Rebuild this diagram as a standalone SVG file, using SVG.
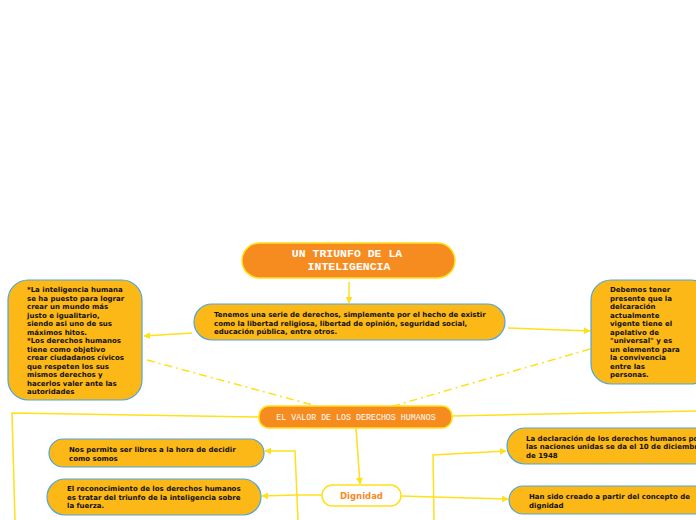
<svg xmlns="http://www.w3.org/2000/svg" width="696" height="520" viewBox="0 0 696 520">
<style>
.conn{fill:none;stroke:#FFE01A;stroke-width:1.5}
.dash{fill:none;stroke:#FFE01A;stroke-width:1.5;stroke-dasharray:8 4 2 4}
.main{fill:#F68B1F;stroke:#FFE01A;stroke-width:1.5}
.sub{fill:#FCB816;stroke:#4EA6DC;stroke-width:1.2}
.mono{font-family:"Liberation Mono","Courier New",monospace;fill:#ffffff}
.t{font-family:"DejaVu Sans",Verdana,sans-serif;font-weight:bold;font-size:7px;fill:#111111}
</style>
<defs>
<marker id="ah" viewBox="0 0 10 10" refX="9" refY="5" markerWidth="7" markerHeight="7" orient="auto" markerUnits="userSpaceOnUse">
<path d="M0,0 L10,5 L0,10 z" fill="#FFE01A"/>
</marker>
</defs>
<rect width="696" height="520" fill="#ffffff"/>
<g id="connectors">
<line class="conn" x1="349" y1="282" x2="349" y2="303" marker-end="url(#ah)"/>
<line class="conn" x1="192" y1="333" x2="144" y2="336" marker-end="url(#ah)"/>
<line class="conn" x1="508" y1="328" x2="590" y2="331" marker-end="url(#ah)"/>
<line class="dash" x1="147" y1="360" x2="320" y2="407"/>
<line class="dash" x1="590" y1="349" x2="390" y2="407"/>
<polyline class="conn" points="259,417 12,413 15,520"/>
<line class="conn" x1="452" y1="416" x2="696" y2="411"/>
<line class="conn" x1="356" y1="428" x2="360" y2="484" marker-end="url(#ah)"/>
<line class="conn" x1="322" y1="495" x2="296" y2="495"/>
<polyline class="conn" points="298,520 295,451 265,451" marker-end="url(#ah)"/>
<line class="conn" x1="296" y1="495" x2="262" y2="496" marker-end="url(#ah)"/>
<line class="conn" x1="401" y1="496" x2="434" y2="497"/>
<polyline class="conn" points="434,520 433,455 506,451" marker-end="url(#ah)"/>
<line class="conn" x1="434" y1="497" x2="508" y2="499" marker-end="url(#ah)"/>
</g>
<g id="title">
<rect class="main" x="242" y="243" width="213" height="35" rx="17.5"/>
<text class="mono" font-size="11.5" text-anchor="middle" x="347" y="257" font-weight="bold">UN TRIUNFO DE LA</text>
<text class="mono" font-size="11.5" text-anchor="middle" x="349" y="270" font-weight="bold">INTELIGENCIA</text>
</g>
<g id="derechos">
<rect class="sub" x="194" y="304" width="311" height="36" rx="18"/>
<text class="t" x="214" y="317">Tenemos una serie de derechos, simplemente por el hecho de existir</text>
<text class="t" x="214" y="325.5">como la libertad religiosa, libertad de opinión, seguridad social,</text>
<text class="t" x="214" y="334">educación pública, entre otros.</text>
</g>
<g id="inteligencia">
<rect class="sub" x="8" y="280" width="134" height="120" rx="20"/>
<text class="t" x="27" y="292">*La inteligencia humana</text>
<text class="t" x="27" y="300.5">se ha puesto para lograr</text>
<text class="t" x="27" y="309">crear un mundo más</text>
<text class="t" x="27" y="317.5">justo e igualitario,</text>
<text class="t" x="27" y="326">siendo asi uno de sus</text>
<text class="t" x="27" y="334.5">máximos hitos.</text>
<text class="t" x="27" y="343">*Los derechos humanos</text>
<text class="t" x="27" y="351.5">tiene como objetivo</text>
<text class="t" x="27" y="360">crear ciudadanos cívicos</text>
<text class="t" x="27" y="368.5">que respeten los sus</text>
<text class="t" x="27" y="377">mismos derechos y</text>
<text class="t" x="27" y="385.5">hacerlos valer ante las</text>
<text class="t" x="27" y="394">autoridades</text>
</g>
<g id="declaracion-universal">
<rect class="sub" x="591" y="280" width="120" height="104" rx="20"/>
<text class="t" x="610" y="292">Debemos tener</text>
<text class="t" x="610" y="300.5">presente que la</text>
<text class="t" x="610" y="309">delcaración</text>
<text class="t" x="610" y="317.5">actualmente</text>
<text class="t" x="610" y="326">vigente tiene el</text>
<text class="t" x="610" y="334.5">apelativo de</text>
<text class="t" x="610" y="343">"universal" y es</text>
<text class="t" x="610" y="351.5">un elemento para</text>
<text class="t" x="610" y="360">la convivencia</text>
<text class="t" x="610" y="368.5">entre las</text>
<text class="t" x="610" y="377">personas.</text>
</g>
<g id="valor">
<rect class="main" x="259" y="406" width="193" height="22" rx="10"/>
<text class="mono" font-size="8.3" text-anchor="middle" x="356" y="419.5">EL VALOR DE LOS DERECHOS HUMANOS</text>
</g>
<g id="dignidad">
<rect x="322" y="485" width="79" height="21" rx="10.5" fill="#ffffff" stroke="#FFE01A" stroke-width="1.5"/>
<text x="361.5" y="499" text-anchor="middle" font-family="DejaVu Sans,Verdana,sans-serif" font-weight="bold" font-size="8.5" fill="#F68B1F">Dignidad</text>
</g>
<g id="libres">
<rect class="sub" x="49" y="439" width="215" height="28" rx="14"/>
<text class="t" x="69" y="452">Nos permite ser libres a la hora de decidir</text>
<text class="t" x="69" y="460.5">como somos</text>
</g>
<g id="reconocimiento">
<rect class="sub" x="47" y="479" width="214" height="36" rx="18"/>
<text class="t" x="67" y="491">El reconocimiento de los derechos humanos</text>
<text class="t" x="67" y="499.5">es tratar del triunfo de la inteligencia sobre</text>
<text class="t" x="67" y="508">la fuerza.</text>
</g>
<g id="naciones-unidas">
<rect class="sub" x="507" y="428" width="210" height="36" rx="18"/>
<text class="t" x="526" y="440.5">La declaración de los derechos humanos por</text>
<text class="t" x="526" y="449">las naciones unidas se da el 10 de diciembre</text>
<text class="t" x="526" y="457.5">de 1948</text>
</g>
<g id="creado">
<rect class="sub" x="509" y="486" width="200" height="28" rx="14"/>
<text class="t" x="529" y="499">Han sido creado a partir del concepto de</text>
<text class="t" x="529" y="507.5">dignidad</text>
</g>
</svg>
